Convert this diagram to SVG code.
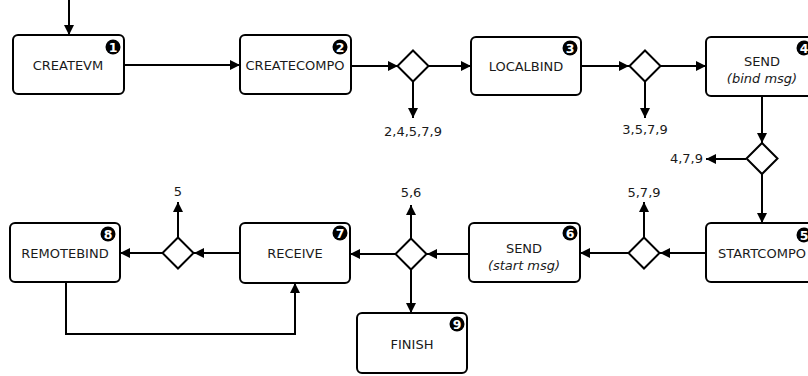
<svg xmlns="http://www.w3.org/2000/svg" width="808" height="376" viewBox="0 0 808 376">
<defs>
<marker id="ah" markerUnits="userSpaceOnUse" markerWidth="10" markerHeight="10" refX="10" refY="5" orient="auto">
<path d="M0,0 L10,5 L0,10 z" fill="#000"/>
</marker>
<style>
.box{fill:#fff;stroke:#000;stroke-width:2}
.dia{fill:#fff;stroke:#000;stroke-width:2}
.lbl{font-family:"DejaVu Sans",sans-serif;font-size:13px;fill:#1a1a1a;text-anchor:middle}
.it{font-style:italic}
.badge{fill:#000}
.bn{font-family:"DejaVu Sans",sans-serif;font-size:12.5px;font-weight:bold;fill:#fff;text-anchor:middle}
.con{fill:none;stroke:#000;stroke-width:2}
</style>
</defs>
<rect width="808" height="376" fill="#fff"/>
<g id="connectors">
<path class="con" d="M69,0 V35" marker-end="url(#ah)"/>
<path class="con" d="M124,65 H240" marker-end="url(#ah)"/>
<path class="con" d="M351,66 H398" marker-end="url(#ah)"/>
<path class="con" d="M429,66 H471" marker-end="url(#ah)"/>
<path class="con" d="M413,81 V118" marker-end="url(#ah)"/>
<path class="con" d="M581,66 H629" marker-end="url(#ah)"/>
<path class="con" d="M661,66 H706" marker-end="url(#ah)"/>
<path class="con" d="M645,82 V118" marker-end="url(#ah)"/>
<path class="con" d="M762,96 V143" marker-end="url(#ah)"/>
<path class="con" d="M746,159 H706" marker-end="url(#ah)"/>
<path class="con" d="M762,174 V223" marker-end="url(#ah)"/>
<path class="con" d="M706,253 H660" marker-end="url(#ah)"/>
<path class="con" d="M644,237 V202" marker-end="url(#ah)"/>
<path class="con" d="M628,253 H580" marker-end="url(#ah)"/>
<path class="con" d="M469,254 H427" marker-end="url(#ah)"/>
<path class="con" d="M411,238 V205" marker-end="url(#ah)"/>
<path class="con" d="M411,270 V313" marker-end="url(#ah)"/>
<path class="con" d="M396,254 H350" marker-end="url(#ah)"/>
<path class="con" d="M240,253 H194" marker-end="url(#ah)"/>
<path class="con" d="M178,237 V202" marker-end="url(#ah)"/>
<path class="con" d="M162,253 H120" marker-end="url(#ah)"/>
<path class="con" d="M66,282 V334 H295 V283" marker-end="url(#ah)"/>
<text class="lbl" x="413" y="136">2,4,5,7,9</text>
<text class="lbl" x="645" y="134">3,5,7,9</text>
<text class="lbl" x="703" y="163" style="text-anchor:end">4,7,9</text>
<text class="lbl" x="644" y="197">5,7,9</text>
<text class="lbl" x="411" y="197">5,6</text>
<text class="lbl" x="178" y="196">5</text>
</g>
<g id="d1"><polygon class="dia" points="413,50.5 428.5,66 413,81.5 397.5,66"/></g>
<g id="d2"><polygon class="dia" points="645,50.5 660.5,66 645,81.5 629.5,66"/></g>
<g id="d3"><polygon class="dia" points="762,143 777.5,158.5 762,174 746.5,158.5"/></g>
<g id="d4"><polygon class="dia" points="644,237.5 659.5,253 644,268.5 628.5,253"/></g>
<g id="d5"><polygon class="dia" points="411,238.5 426.5,254 411,269.5 395.5,254"/></g>
<g id="d6"><polygon class="dia" points="178,237.5 193.5,253 178,268.5 162.5,253"/></g>
<g id="n1">
<rect class="box" x="13" y="35" width="111" height="59" rx="5"/>
<text class="lbl" x="68" y="70">CREATEVM</text>
<circle class="badge" cx="113" cy="47" r="7.5"/><text class="bn" x="113" y="51.5">1</text>
</g>
<g id="n2">
<rect class="box" x="240" y="35" width="111" height="59" rx="5"/>
<text class="lbl" x="295" y="70">CREATECOMPO</text>
<circle class="badge" cx="340" cy="47" r="7.5"/><text class="bn" x="340" y="51.5">2</text>
</g>
<g id="n3">
<rect class="box" x="471" y="37" width="110" height="58" rx="5"/>
<text class="lbl" x="526" y="71">LOCALBIND</text>
<circle class="badge" cx="570" cy="48" r="7.5"/><text class="bn" x="570" y="52.5">3</text>
</g>
<g id="n4">
<rect class="box" x="706" y="37" width="112" height="59" rx="5"/>
<text class="lbl" x="762" y="66">SEND</text>
<text class="lbl it" x="762" y="83">(bind msg)</text>
<circle class="badge" cx="804" cy="48" r="7.5"/><text class="bn" x="804" y="52.5">4</text>
</g>
<g id="n5">
<rect class="box" x="706" y="223" width="112" height="59" rx="5"/>
<text class="lbl" x="762" y="258">STARTCOMPO</text>
<circle class="badge" cx="804" cy="235" r="7.5"/><text class="bn" x="804" y="239.5">5</text>
</g>
<g id="n6">
<rect class="box" x="469" y="223" width="111" height="59" rx="5"/>
<text class="lbl" x="524" y="253">SEND</text>
<text class="lbl it" x="524" y="270">(start msg)</text>
<circle class="badge" cx="570" cy="233" r="7.5"/><text class="bn" x="570" y="237.5">6</text>
</g>
<g id="n7">
<rect class="box" x="240" y="223" width="110" height="60" rx="5"/>
<text class="lbl" x="295" y="258">RECEIVE</text>
<circle class="badge" cx="340" cy="233" r="7.5"/><text class="bn" x="340" y="237.5">7</text>
</g>
<g id="n8">
<rect class="box" x="10" y="223" width="110" height="59" rx="5"/>
<text class="lbl" x="65" y="258">REMOTEBIND</text>
<circle class="badge" cx="108" cy="234" r="7.5"/><text class="bn" x="108" y="238.5">8</text>
</g>
<g id="n9">
<rect class="box" x="357" y="313" width="110" height="60" rx="5"/>
<text class="lbl" x="412" y="349">FINISH</text>
<circle class="badge" cx="457" cy="324" r="7.5"/><text class="bn" x="457" y="328.5">9</text>
</g>
</svg>
